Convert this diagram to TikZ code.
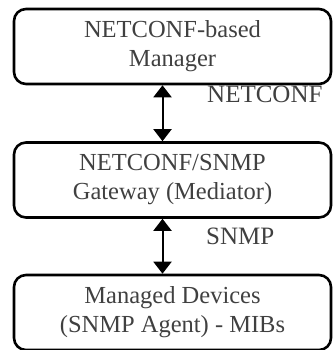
\documentclass[tikz,border=0pt]{standalone}
\usepackage{fontspec}
\setmainfont{Liberation Serif}
\usetikzlibrary{arrows.meta}
\begin{document}
\begin{tikzpicture}[x=1pt,y=1pt,
  box/.style={draw=black, line width=2.6pt, rounded corners=12pt,
    minimum width=317pt, minimum height=75pt, align=center,
    text=black!75, font=\fontsize{24.5}{29}\selectfont, inner sep=0pt},
  lbl/.style={anchor=base west, text=black!75, font=\fontsize{25}{29}\selectfont, inner sep=0pt},
  conn/.style={line width=2pt, {Triangle[width=18pt,length=12pt]}-{Triangle[width=18pt,length=12pt]}}]
\useasboundingbox (0,0) rectangle (333,350);
\node[box] (mgr) at (172.5,303.5) {NETCONF-based\\Manager};
\node[box] (gw) at (172.5,170) {NETCONF/SNMP\\Gateway (Mediator)};
\node[box] (dev) at (172.5,37.5) {Managed Devices\\(SNMP Agent) - MIBs};
\draw[conn] ([xshift=-10pt]mgr.south) -- ([xshift=-10pt]gw.north);
\draw[conn] ([xshift=-10pt]gw.south) -- ([xshift=-10pt]dev.north);
\node[lbl] (l1) at (207,247) {NETCONF};
\node[lbl] (l2) at (206,105) {SNMP};
\end{tikzpicture}
\end{document}
